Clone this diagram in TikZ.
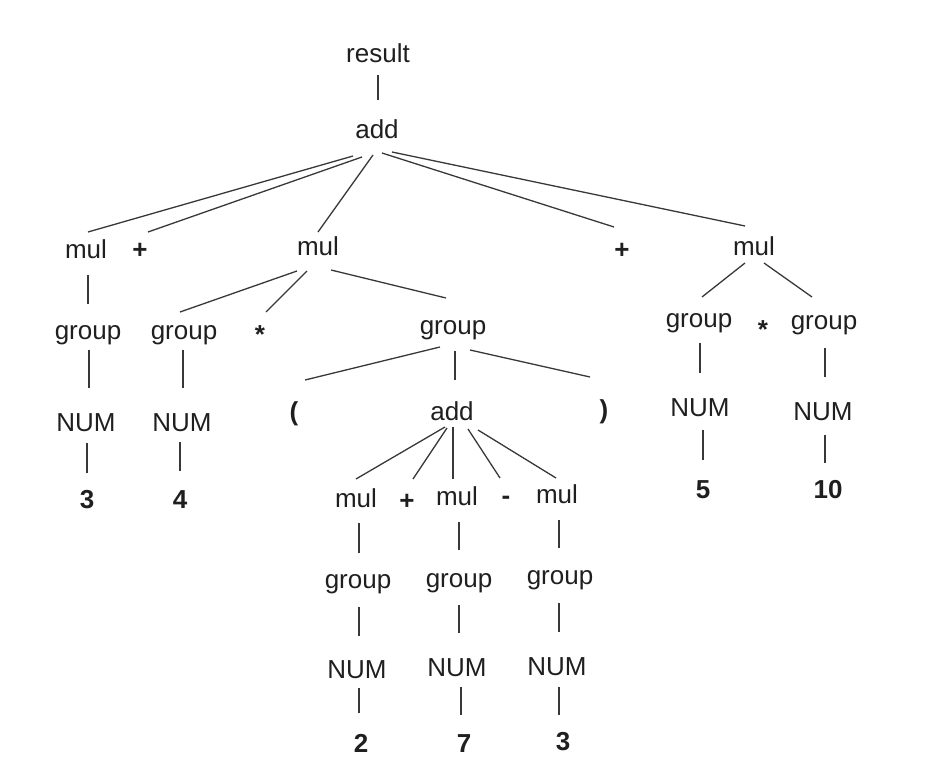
\documentclass[tikz,border=0pt]{standalone}
\usepackage{fontspec}
\setmainfont{Liberation Sans}
\usetikzlibrary{calc}
\newcommand\tedge[6]{\draw[conn] ($(#1.base)+(#2,#3)$) -- ($(#4.base)+(#5,#6)$);}
\begin{document}
\begin{tikzpicture}[x=1pt,y=-1pt,
  lbl/.style={anchor=base,inner sep=0pt,text=black!88,font=\fontsize{26}{30}\selectfont},
  sym/.style={lbl,font=\fontsize{26}{30}\selectfont\bfseries},
  conn/.style={draw=black!78,line width=1.3pt}]
\useasboundingbox (0,0) rectangle (930,770);
% level nodes
\node[lbl] (result) at (378,63) {result};
\node[lbl] (add) at (377,139) {add};
\node[lbl] (mul1) at (86,259) {mul};
\node[sym] (p1) at (140,259) {+};
\node[lbl] (mul2) at (318,256) {mul};
\node[sym] (p2) at (622,259) {+};
\node[lbl] (mul3) at (754,256) {mul};
\node[lbl] (g1) at (88,340) {group};
\node[lbl] (g2) at (184,340) {group};
\node[sym] (s1) at (260,344) {*};
\node[lbl] (g3) at (453,335) {group};
\node[lbl] (g4) at (699,328) {group};
\node[sym] (s2) at (763,339) {*};
\node[lbl] (g5) at (824,330) {group};
\node[lbl] (N1) at (86,431) {NUM};
\node[lbl] (N2) at (182,431) {NUM};
\node[sym] (lp) at (294,420) {(};
\node[lbl] (add2) at (452,420) {add};
\node[sym] (rp) at (604,418) {)};
\node[lbl] (N4) at (700,417) {NUM};
\node[lbl] (N5) at (823,420) {NUM};
\node[sym] (d3) at (87,508) {3};
\node[sym] (d4) at (180,508) {4};
\node[sym] (d5) at (703,498) {5};
\node[sym] (d10) at (828,498) {10};
\node[lbl] (mul4) at (356,507) {mul};
\node[sym] (p3) at (407,509) {+};
\node[lbl] (mul5) at (457,505) {mul};
\node[sym] (minus) at (506,504) {-};
\node[lbl] (mul6) at (557,503) {mul};
\node[lbl] (g6) at (358,588) {group};
\node[lbl] (g7) at (459,587) {group};
\node[lbl] (g8) at (560,584) {group};
\node[lbl] (N6) at (357,678) {NUM};
\node[lbl] (N7) at (457,676) {NUM};
\node[lbl] (N8) at (557,675) {NUM};
\node[sym] (d2) at (361,752) {2};
\node[sym] (d7) at (464,752) {7};
\node[sym] (d3b) at (563,750) {3};
% connectors
\tedge{result}{0}{12}{add}{1}{-39}
\tedge{add}{-24}{17}{mul1}{2}{-27}
\tedge{add}{-15}{18}{p1}{8}{-27}
\tedge{add}{-4}{16}{mul2}{0}{-24}
\tedge{add}{5}{14}{p2}{-8}{-32}
\tedge{add}{15}{13}{mul3}{-9}{-30}
\tedge{mul1}{2}{16}{g1}{0}{-36}
\tedge{g1}{1}{10}{N1}{3}{-43}
\tedge{N1}{1}{12}{d3}{0}{-35}
\tedge{g2}{-1}{10}{N2}{1}{-43}
\tedge{N2}{-2}{11}{d4}{0}{-37}
\tedge{mul2}{-21}{15}{g2}{-4}{-28}
\tedge{mul2}{-11}{15}{s1}{6}{-32}
\tedge{mul2}{13}{14}{g3}{-7}{-37}
\tedge{g3}{-13}{12}{lp}{11}{-40}
\tedge{g3}{2}{16}{add2}{3}{-40}
\tedge{g3}{17}{15}{rp}{-14}{-41}
\tedge{mul3}{-9}{7}{g4}{3}{-31}
\tedge{mul3}{10}{7}{g5}{-12}{-33}
\tedge{g4}{1}{15}{N4}{0}{-44}
\tedge{g5}{1}{18}{N5}{2}{-43}
\tedge{N4}{3}{13}{d5}{0}{-38}
\tedge{N5}{2}{15}{d10}{-3}{-35}
\tedge{add2}{-7}{7}{mul4}{0}{-28}
\tedge{add2}{-5}{8}{p3}{6}{-30}
\tedge{add2}{1}{7}{mul5}{-4}{-26}
\tedge{add2}{16}{9}{minus}{-6}{-26}
\tedge{add2}{26}{10}{mul6}{-1}{-25}
\tedge{mul4}{3}{16}{g6}{1}{-35}
\tedge{g6}{1}{19}{N6}{2}{-42}
\tedge{N6}{2}{10}{d2}{-2}{-39}
\tedge{mul5}{2}{17}{g7}{0}{-37}
\tedge{g7}{0}{18}{N7}{2}{-43}
\tedge{N7}{4}{11}{d7}{-3}{-37}
\tedge{mul6}{2}{17}{g8}{-1}{-36}
\tedge{g8}{-1}{19}{N8}{2}{-43}
\tedge{N8}{2}{12}{d3b}{-4}{-35}
\end{tikzpicture}
\end{document}
